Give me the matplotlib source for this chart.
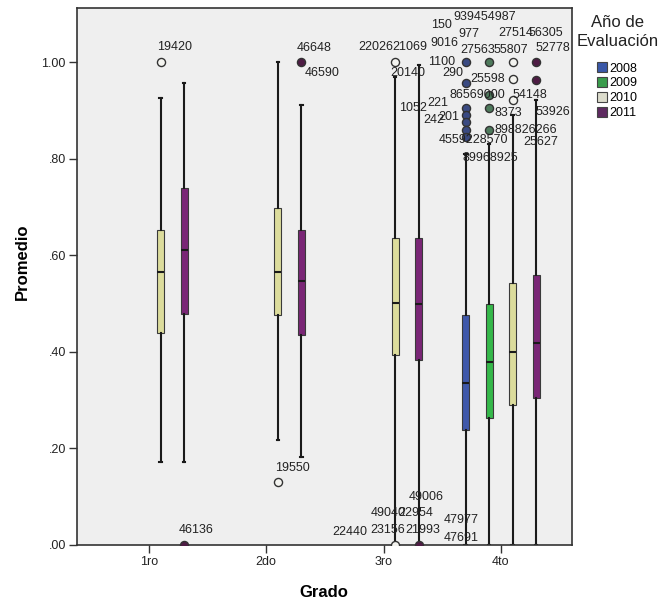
"""Boxplot of average score by grade and evaluation year."""

from __future__ import annotations

import os

os.environ.setdefault("MPLBACKEND", "Agg")
import matplotlib.pyplot as plt
from matplotlib.patches import Patch

plt.rcParams["font.family"] = ["Liberation Sans", "DejaVu Sans"]

GRADES = ["1ro", "2do", "3ro", "4to"]
YEARS = ["2008", "2009", "2010", "2011"]

# rows follow YEARS, columns follow GRADES; None means no data for that year
WHISKER_LOW = [
    [None, None, None, 0.000],
    [None, None, None, 0.000],
    [0.172, 0.217, 0.000, 0.000],
    [0.172, 0.182, 0.000, 0.000],
]
Q1 = [
    [None, None, None, 0.238],
    [None, None, None, 0.263],
    [0.439, 0.476, 0.393, 0.290],
    [0.478, 0.435, 0.383, 0.304],
]
MEDIAN = [
    [None, None, None, 0.335],
    [None, None, None, 0.379],
    [0.565, 0.565, 0.501, 0.400],
    [0.611, 0.547, 0.500, 0.418],
]
Q3 = [
    [None, None, None, 0.476],
    [None, None, None, 0.500],
    [0.652, 0.698, 0.636, 0.542],
    [0.739, 0.652, 0.636, 0.559],
]
WHISKER_HIGH = [
    [None, None, None, 0.810],
    [None, None, None, 0.830],
    [0.925, 1.000, 0.970, 0.890],
    [0.956, 0.911, 0.995, 0.921],
]

# (grade index, year index, value)
OUTLIERS = [
    (0, 2, 1.000), (0, 3, 0.000),
    (1, 2, 0.130), (1, 3, 1.000),
    (2, 2, 1.000), (2, 2, 0.000), (2, 3, 0.000),
    (3, 0, 1.000), (3, 0, 0.956), (3, 0, 0.905), (3, 0, 0.890),
    (3, 0, 0.875), (3, 0, 0.860), (3, 0, 0.845),
    (3, 1, 1.000), (3, 1, 0.932), (3, 1, 0.905), (3, 1, 0.859),
    (3, 2, 1.000), (3, 2, 0.966), (3, 2, 0.921),
    (3, 3, 1.000), (3, 3, 0.963),
]

# case labels: (text, grade index, year index, value, dx px, dy px)
CASE_LABELS = [
    ("19420", 0, 2, 1.000, -4, 15),
    ("46136", 0, 3, 0.000, -5, 15),
    ("46648", 1, 3, 1.000, -5, 14),
    ("46590", 1, 3, 1.000, 3, -11),
    ("19550", 1, 2, 0.130, -3, 14),
    ("22026", 2, 2, 1.000, -37, 15),
    ("21069", 2, 2, 1.000, -3, 15),
    ("20140", 2, 2, 1.000, -5, -11),
    ("939454987", 3, 0, 1.000, -12, 45),
    ("150", 3, 0, 1.000, -35, 37),
    ("977", 3, 0, 1.000, -7, 28),
    ("9016", 3, 0, 1.000, -35, 19),
    ("1100", 3, 0, 1.000, -38, 0),
    ("27563", 3, 1, 1.000, -29, 12),
    ("27514", 3, 2, 1.000, -14, 29),
    ("55807", 3, 2, 1.000, -19, 12),
    ("56305", 3, 3, 1.000, -8, 29),
    ("52778", 3, 3, 1.000, -1, 14),
    ("290", 3, 0, 0.956, -23, 10),
    ("25598", 3, 2, 0.966, -42, 0),
    ("86569000", 3, 1, 0.932, -40, 0),
    ("54148", 3, 2, 0.921, 0, 5),
    ("1052", 3, 0, 0.905, -67, 0),
    ("221", 3, 0, 0.905, -38, 5),
    ("8373", 3, 1, 0.905, 5, -5),
    ("53926", 3, 3, 0.963, -1, -32),
    ("242", 3, 0, 0.875, -42, 2),
    ("201", 3, 0, 0.875, -27, 5),
    ("898826266", 3, 1, 0.859, 5, 0),
    ("4559228570", 3, 0, 0.845, -27, -3),
    ("25627", 3, 3, 0.963, -13, -62),
    ("89968925", 3, 0, 0.845, -3, -21),
    ("49006", 2, 3, 0.000, -10, 48),
    ("49040", 2, 2, 0.000, -25, 32),
    ("22954", 2, 3, 0.000, -20, 32),
    ("22440", 2, 2, 0.000, -63, 13),
    ("23156", 2, 2, 0.000, -25, 15),
    ("21993", 2, 3, 0.000, -13, 15),
    ("47977", 3, 0, 0.000, -22, 25),
    ("47691", 3, 0, 0.000, -22, 7),
]

BOX_COLORS = ["#3f58aa", "#35b84a", "#dcdc9c", "#7a2676"]
LEGEND_COLORS = ["#3a58a8", "#3a9c4c", "#dcdccc", "#5e2a60"]
OUTLIER_FILLS = ["#3a4a82", "#4e7a5c", "#f4f4f0", "#4e1c44"]
YEAR_OFFSET = 0.2
BOX_WIDTH = 0.06


def slot_position(grade: int, year: int) -> float:
    """Horizontal position of one year's box inside a grade group."""

    return grade + 1 + (year - 1.5) * YEAR_OFFSET


def build_stats(year: int) -> tuple[list[dict], list[float]]:
    """Collect bxp statistics for one evaluation year."""

    stats = []
    positions = []
    for grade in range(len(GRADES)):
        if MEDIAN[year][grade] is None:
            continue
        stats.append(
            {
                "whislo": WHISKER_LOW[year][grade],
                "q1": Q1[year][grade],
                "med": MEDIAN[year][grade],
                "q3": Q3[year][grade],
                "whishi": WHISKER_HIGH[year][grade],
                "fliers": [],
            }
        )
        positions.append(slot_position(grade, year))
    return stats, positions


def main() -> None:
    fig = plt.figure(figsize=(6.58, 6.02), dpi=100)
    ax = fig.add_axes([0.117, 0.0947, 0.752, 0.892])
    ax.set_facecolor("#efefef")

    for year, color in enumerate(BOX_COLORS):
        stats, positions = build_stats(year)
        if not stats:
            continue
        ax.bxp(
            stats,
            positions=positions,
            widths=BOX_WIDTH,
            capwidths=0.02,
            patch_artist=True,
            showfliers=False,
            boxprops={"facecolor": color, "edgecolor": "#3a3a3a", "linewidth": 0.8},
            whiskerprops={"color": "#1a1a1a", "linewidth": 1.5},
            capprops={"color": "#1a1a1a", "linewidth": 1.5},
            medianprops={"color": "#1a1a1a", "linewidth": 1.5},
            manage_ticks=False,
        )

    for grade, year, value in OUTLIERS:
        ax.scatter(
            slot_position(grade, year), value, s=34, marker="o",
            facecolor=OUTLIER_FILLS[year], edgecolor="#333333", linewidth=1.0, zorder=4,
        )

    for text, grade, year, value, dx, dy in CASE_LABELS:
        ax.annotate(
            text, (slot_position(grade, year), value), xytext=(dx, dy),
            textcoords="offset pixels", ha="left", va="center",
            fontsize=9, color="#222222", zorder=5, annotation_clip=False,
        )

    ax.set_xlim(0.387, 4.605)
    ax.set_ylim(0.0, 1.112)
    ax.set_xticks(range(1, len(GRADES) + 1), GRADES)
    y_ticks = [0.0, 0.2, 0.4, 0.6, 0.8, 1.0]
    ax.set_yticks(y_ticks, [f"{t:.2f}".lstrip("0") if t < 1 else f"{t:.2f}" for t in y_ticks])
    ax.tick_params(axis="both", direction="out", length=6, width=1.0, color="#333333",
                   labelsize=9, labelcolor="#222222", pad=2)

    for spine in ax.spines.values():
        spine.set_color("#333333")
        spine.set_linewidth(1.2)

    ax.set_ylabel("Promedio", fontsize=12, fontweight="bold")
    ax.yaxis.set_label_coords(-0.095, 0.527)
    ax.set_xlabel("Grado", fontsize=12, fontweight="bold")
    ax.xaxis.set_label_coords(0.499, -0.074)

    # legend title sits above the swatches, centred over the column
    fig.text(0.938, 0.975, "Año de\nEvaluación", ha="center", va="top",
             fontsize=12, linespacing=1.3, color="#222222")
    handles = [Patch(facecolor=c, edgecolor="#444444", linewidth=0.8) for c in LEGEND_COLORS]
    ax.legend(
        handles, YEARS, loc="upper left", bbox_to_anchor=(1.05, 0.899),
        frameon=False, fontsize=9, handlelength=0.85, handleheight=0.85,
        handletextpad=0.2, labelspacing=0.2, borderpad=0.0, borderaxespad=0.0,
    )

    fig.savefig("out.png", dpi=100)
    plt.close(fig)


if __name__ == "__main__":
    main()
